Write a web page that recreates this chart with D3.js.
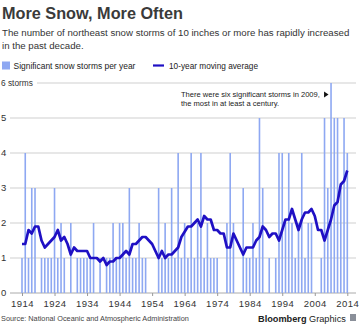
<!DOCTYPE html>
<html>
<head>
<meta charset="utf-8">
<script src="https://cdn.jsdelivr.net/npm/d3@7"></script>
<style>
  html, body { margin: 0; padding: 0; background: #fff; }
  svg { display: block; font-family: "Liberation Sans", Arial, sans-serif; }
</style>
</head>
<body>
<div id="chart"></div>
<script>
// storms of 10+ inches per year, 1914-2014
var years = d3.range(1914, 2015);
var storms = [
  1, 4, 1, 3, 3, 0, 1, 1, 1, 1,   // 1914-1923
  3, 1, 2, 1, 0, 2, 0, 1, 1, 1,   // 1924-1933
  1, 1, 2, 0, 1, 0, 1, 1, 2, 1,   // 1934-1943
  2, 2, 1, 3, 1, 1, 2, 1, 1, 0,   // 1944-1953
  0, 0, 3, 1, 2, 1, 3, 1, 4, 1,   // 1954-1963
  2, 1, 4, 1, 2, 4, 1, 2, 1, 1,   // 1964-1973
  1, 0, 0, 2, 4, 2, 0, 0, 3, 1,   // 1974-1983
  1, 2, 1, 5, 3, 0, 1, 0, 1, 4,   // 1984-1993
  4, 2, 4, 2, 1, 2, 4, 1, 2, 2,   // 1994-2003
  0, 0, 1, 5, 3, 6, 5, 5, 3, 5,   // 2004-2013
  4                               // 2014
];
// 10-year moving average
var movingAvg = [
  1.4, 1.4, 1.8, 1.7, 1.9, 1.9, 1.5, 1.3, 1.4, 1.5,
  1.6, 1.8, 1.5, 1.6, 1.4, 1.1, 1.3, 1.2, 1.2, 1.2,
  1.2, 1.0, 1.0, 1.0, 0.9, 1.0, 0.8, 0.9, 0.9, 1.0,
  1.0, 1.1, 1.2, 1.1, 1.4, 1.4, 1.5, 1.6, 1.6, 1.5,
  1.4, 1.2, 1.0, 1.2, 1.0, 1.1, 1.1, 1.2, 1.3, 1.6,
  1.75, 1.9, 1.9, 2.0, 2.1, 1.9, 2.2, 2.1, 2.1, 1.8,
  1.8, 1.7, 1.7, 1.3, 1.3, 1.7, 1.5, 1.3, 1.1, 1.3,
  1.3, 1.3, 1.5, 1.6, 1.9, 1.8, 1.6, 1.7, 1.7, 1.5,
  1.8, 2.1, 2.1, 2.4, 2.1, 1.8, 2.1, 2.3, 2.3, 2.4,
  2.2, 1.8, 1.8, 1.5, 1.8, 2.1, 2.5, 2.6, 3.1, 3.2,
  3.5
];
var tickYears = d3.range(1914, 2015, 10);
var yTicks = [0, 1, 2, 3, 4, 5, 6];

var W = 360, H = 326;
var barColor = '#8ea8f2', lineColor = '#1f10c4', textColor = '#333';

var svg = d3.select('#chart').append('svg')
  .attr('width', W)
  .attr('height', H);

// scale a text's font so its first line runs to the given width
function fitWidth(textSel, lineSel, w) {
  var fs = parseFloat(textSel.style('font-size'));
  var len = lineSel.node().getComputedTextLength();
  textSel.style('font-size', (fs * w / len) + 'px');
}

// headline block
var title = svg.append('text')
  .attr('x', 2).attr('y', 19)
  .style('font-size', '16.5px').style('font-weight', 'bold')
  .attr('fill', '#3a3a3a')
  .text('More Snow, More Often');
fitWidth(title, title, 181);

var sub = svg.append('text')
  .attr('x', 2).attr('y', 36)
  .style('font-size', '11px')
  .attr('fill', textColor);
var sub1 = sub.append('tspan').attr('x', 2).text('The number of northeast snow storms of 10 inches or more has rapidly increased');
sub.append('tspan').attr('x', 2).attr('dy', 13).text('in the past decade.');
fitWidth(sub, sub1, 348);

// legend
var legend = svg.append('g').attr('transform', 'translate(0,65.5)');
legend.append('rect')
  .attr('x', 2).attr('y', -4).attr('width', 8).attr('height', 8)
  .attr('fill', barColor);
var lg1 = legend.append('text')
  .attr('x', 13.5).attr('y', 3.2)
  .style('font-size', '9px').attr('fill', '#222')
  .text('Significant snow storms per year');
fitWidth(lg1, lg1, 122);
legend.append('line')
  .attr('x1', 153).attr('x2', 164).attr('y1', 0).attr('y2', 0)
  .attr('stroke', lineColor).attr('stroke-width', 2.2);
var lg2 = legend.append('text')
  .attr('x', 169).attr('y', 3.2)
  .style('font-size', '9px').attr('fill', '#222')
  .text('10-year moving average');
fitWidth(lg2, lg2, 89);

// scales
var x = d3.scaleLinear().domain([1914, 2014]).range([22, 347.3]);
var y = d3.scaleLinear().domain([0, 6]).range([293, 83]);

// gridlines and y labels
var grid = svg.append('g');
grid.selectAll('line')
  .data(yTicks)
  .enter().append('line')
  .attr('x1', d => d === 6 ? 37 : 10)
  .attr('x2', 356)
  .attr('y1', d => y(d)).attr('y2', d => y(d))
  .attr('stroke', d => d === 0 ? '#aaa' : '#cfcfcf')
  .attr('stroke-width', 1);
var yLabels = grid.selectAll('text')
  .data(yTicks)
  .enter().append('text')
  .attr('x', 1)
  .attr('y', d => y(d) + 3.3)
  .style('font-size', '9.5px').attr('fill', textColor)
  .text(d => d === 6 ? '6 storms' : d);
var topLabel = yLabels.filter(d => d === 6);
fitWidth(topLabel, topLabel, 32);

// bars
svg.append('g').selectAll('rect')
  .data(years.map((yr, i) => ({ year: yr, value: storms[i] })).filter(d => d.value > 0))
  .enter().append('rect')
  .attr('x', d => x(d.year) - 0.8)
  .attr('width', 1.6)
  .attr('y', d => y(d.value))
  .attr('height', d => y(0) - y(d.value))
  .attr('fill', barColor);

// x axis
var xAxis = d3.axisBottom(x)
  .tickValues(tickYears)
  .tickFormat(d3.format('d'))
  .tickSize(3)
  .tickPadding(4);
var gx = svg.append('g')
  .attr('transform', 'translate(0,' + y(0) + ')')
  .call(xAxis);
gx.select('.domain').remove();
gx.selectAll('.tick line').attr('stroke', '#999');
gx.selectAll('.tick text')
  .style('font-family', '"Liberation Sans", Arial, sans-serif')
  .style('font-size', '9.5px')
  .style('letter-spacing', '0.5px')
  .attr('fill', textColor);

// moving average line
var line = d3.line()
  .x((d, i) => x(years[i]))
  .y(d => y(d));
svg.append('path')
  .datum(movingAvg)
  .attr('d', line)
  .attr('fill', 'none')
  .attr('stroke', lineColor)
  .attr('stroke-width', 2.7)
  .attr('stroke-linejoin', 'round');

// annotation for 2009
var note = svg.append('text')
  .attr('x', 181).attr('y', 97)
  .style('font-size', '8px').attr('fill', '#222');
var note1 = note.append('tspan').attr('x', 181).text('There were six significant storms in 2009,');
note.append('tspan').attr('x', 181).attr('dy', 9).text('the most in at least a century.');
fitWidth(note, note1, 139);
svg.append('path')
  .attr('d', d3.line()([[x(2009) - 7, 91.5], [x(2009) - 2.5, 94.5], [x(2009) - 7, 97.5]]) + 'Z')
  .attr('fill', '#111');

// footer
var source = svg.append('text')
  .attr('x', 1).attr('y', 321)
  .style('font-size', '8.6px').attr('fill', '#444')
  .text('Source: National Oceanic and Atmospheric Administration');
fitWidth(source, source, 188);
var brand = svg.append('text')
  .attr('x', 258).attr('y', 322)
  .style('font-size', '11px').attr('fill', '#222');
brand.append('tspan').style('font-weight', 'bold').text('Bloomberg');
brand.append('tspan').text(' Graphics');
fitWidth(brand, brand, 88);
svg.append('rect')
  .attr('x', 350).attr('y', 314).attr('width', 6).attr('height', 7)
  .attr('fill', '#8a8f99');
</script>
</body>
</html>
